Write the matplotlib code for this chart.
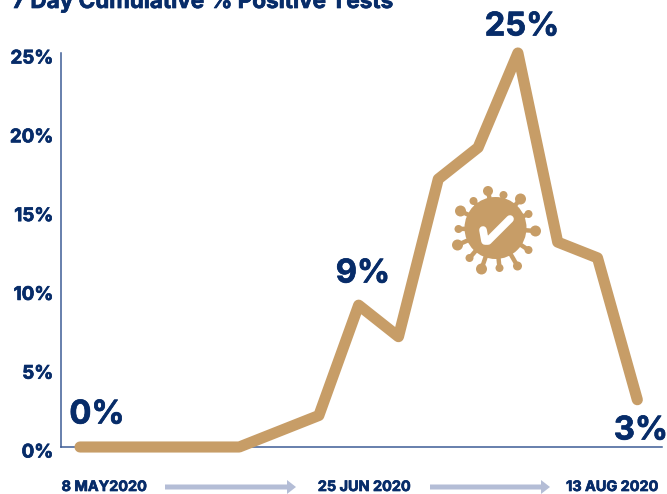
import matplotlib.pyplot as plt
import matplotlib.patheffects as pe
from matplotlib.patches import Circle, FancyArrow
from matplotlib.transforms import ScaledTranslation

plt.rcParams['font.family'] = ['Inter', 'DejaVu Sans']

# Data
pct_positive = [0, 0, 0, 0, 0, 1, 2, 9, 7, 17, 19, 25, 13, 12, 3]
y_ticks = [0, 5, 10, 15, 20, 25]
y_labels = ["0%", "5%", "10%", "15%", "20%", "25%"]

navy = "#072c69"
tan = "#c79d67"
axis_col = "#3d5c96"
arrow_col = "#b4bdd6"
heavy = [pe.withStroke(linewidth=0.5, foreground=navy)]

W, H = 667, 494
fig = plt.figure(figsize=(W / 100, H / 100), dpi=100)

# Main chart, axes box placed in pixels
left, right, top, bottom = 61, 662, 53, 447
ax = fig.add_axes([left / W, 1 - bottom / H, (right - left) / W, (bottom - top) / H])
ax.set_xlim(-0.477, 14.62)
ax.set_ylim(0, 25)
ax.plot(range(len(pct_positive)), pct_positive, color=tan, lw=8, solid_capstyle="round",
        solid_joinstyle="round", clip_on=False, zorder=3)
ax.set_yticks(y_ticks)
ax.set_yticklabels(y_labels, fontsize=13.5, fontweight="bold", color=navy, path_effects=heavy)
ax.tick_params(axis="y", length=0, pad=5.5)
shift = ScaledTranslation(0, -0.04, fig.dpi_scale_trans)
for lab in ax.get_yticklabels():
    lab.set_transform(lab.get_transform() + shift)
ax.set_xticks([])
ax.patch.set_alpha(0)
ax.spines["top"].set_visible(False)
ax.spines["right"].set_visible(False)
ax.spines["left"].set_color(axis_col)
ax.spines["bottom"].set_color(axis_col)
ax.spines["left"].set_linewidth(1.1)
ax.spines["bottom"].set_linewidth(1.1)

# Overlay in pixel coordinates for the annotations
ov = fig.add_axes([0, 0, 1, 1])
ov.set_xlim(0, W)
ov.set_ylim(H, 0)
ov.axis("off")
ov.patch.set_alpha(0)

ov.text(12, 8, "7 Day Cumulative % Positive Tests", fontsize=16.2, fontweight="bold",
        color=navy, va="baseline", ha="left", path_effects=heavy)

for txt, x, y in [("25%", 522, 27), ("9%", 363, 274), ("0%", 97, 415), ("3%", 641, 431)]:
    ov.text(x, y, txt, fontsize=23.5, fontweight="bold", color=navy, ha="center", va="center",
            path_effects=heavy)

for txt, x in [("8 MAY2020", 104), ("25 JUN 2020", 364), ("13 AUG 2020", 612)]:
    ov.text(x, 487, txt, fontsize=10.4, fontweight="bold", color=navy, ha="center", va="center",
            path_effects=heavy)

for x0, x1 in [(165, 296), (430, 550)]:
    ov.add_patch(FancyArrow(x0, 487, x1 - x0, 0, width=5, head_width=14, head_length=9,
                            length_includes_head=True, color=arrow_col, lw=0))

# Virus icon, knob offsets from the centre in pixels
cx, cy, r = 495.5, 228, 31
knobs = [(-7.5, -37, 5), (8, -33, 4), (25, -29, 5.5), (33, -14, 4), (40, 3, 5.5), (33, 22, 4),
         (22, 38, 4.5), (4, 40, 4), (-14, 41, 5.5), (-26, 30, 4), (-38, 17, 5.5), (-37, 1, 4),
         (-35, -17, 5.5), (-22, -27, 4)]
ov.add_patch(Circle((cx, cy), r, color=tan, lw=0))
for dx, dy, knob in knobs:
    ov.plot([cx, cx + dx], [cy, cy + dy], color=tan, lw=3.2, solid_capstyle="butt")
    ov.add_patch(Circle((cx + dx, cy + dy), knob, color=tan, lw=0))
ov.plot([483, 485, 488, 510], [230, 241, 241, 219], color="white", lw=5.5,
        solid_capstyle="round", solid_joinstyle="round")

fig.savefig("out.png", dpi=100)
